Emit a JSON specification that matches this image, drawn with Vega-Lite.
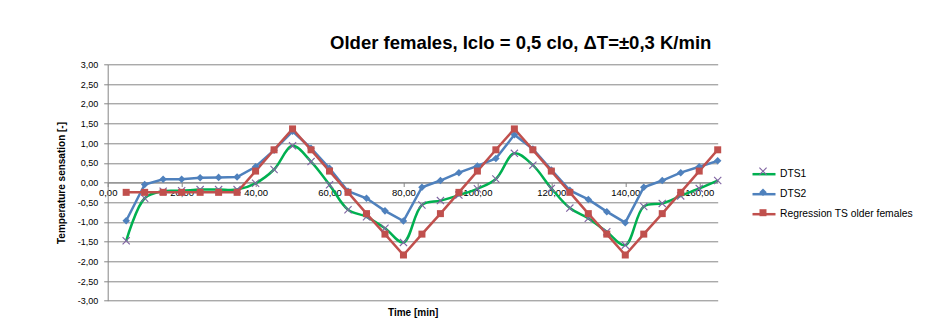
{
  "$schema": "https://vega.github.io/schema/vega-lite/v6.json",
  "width": 610,
  "height": 236.4,
  "autosize": {"type": "none"},
  "padding": {"left": 107.7, "top": 64.3, "right": 230.3, "bottom": 28.3},
  "background": "white",
  "config": {
    "locale": {"number": {"decimal": ",", "thousands": ".", "grouping": [3], "currency": ["", " €"], "minus": "-"}},
    "font": "Liberation Sans",
    "view": {"stroke": null}
  },
  "title": {
    "text": "Older females, Iclo = 0,5 clo, ΔT=±0,3 K/min",
    "fontSize": 18.5,
    "fontWeight": "bold",
    "font": "Liberation Sans",
    "color": "#000000",
    "anchor": "middle",
    "frame": "group",
    "dx": 108,
    "offset": 8
  },
  "data": {
    "values": [
      {"t": 5, "series": "DTS1", "v": -1.48},
      {"t": 10, "series": "DTS1", "v": -0.40},
      {"t": 15, "series": "DTS1", "v": -0.22},
      {"t": 20, "series": "DTS1", "v": -0.21},
      {"t": 25, "series": "DTS1", "v": -0.18},
      {"t": 30, "series": "DTS1", "v": -0.18},
      {"t": 35, "series": "DTS1", "v": -0.18},
      {"t": 40, "series": "DTS1", "v": -0.02},
      {"t": 45, "series": "DTS1", "v": 0.33},
      {"t": 50, "series": "DTS1", "v": 0.93},
      {"t": 55, "series": "DTS1", "v": 0.53},
      {"t": 60, "series": "DTS1", "v": -0.06},
      {"t": 65, "series": "DTS1", "v": -0.69},
      {"t": 70, "series": "DTS1", "v": -0.87},
      {"t": 75, "series": "DTS1", "v": -1.16},
      {"t": 80, "series": "DTS1", "v": -1.52},
      {"t": 85, "series": "DTS1", "v": -0.57},
      {"t": 90, "series": "DTS1", "v": -0.46},
      {"t": 95, "series": "DTS1", "v": -0.32},
      {"t": 100, "series": "DTS1", "v": -0.16},
      {"t": 105, "series": "DTS1", "v": 0.09},
      {"t": 110, "series": "DTS1", "v": 0.74},
      {"t": 115, "series": "DTS1", "v": 0.44},
      {"t": 120, "series": "DTS1", "v": -0.15},
      {"t": 125, "series": "DTS1", "v": -0.65},
      {"t": 130, "series": "DTS1", "v": -0.91},
      {"t": 135, "series": "DTS1", "v": -1.25},
      {"t": 140, "series": "DTS1", "v": -1.59},
      {"t": 145, "series": "DTS1", "v": -0.61},
      {"t": 150, "series": "DTS1", "v": -0.53},
      {"t": 155, "series": "DTS1", "v": -0.34},
      {"t": 160, "series": "DTS1", "v": -0.15},
      {"t": 165, "series": "DTS1", "v": 0.05},
      {"t": 5, "series": "DTS2", "v": -0.97},
      {"t": 10, "series": "DTS2", "v": -0.05},
      {"t": 15, "series": "DTS2", "v": 0.08},
      {"t": 20, "series": "DTS2", "v": 0.08},
      {"t": 25, "series": "DTS2", "v": 0.12},
      {"t": 30, "series": "DTS2", "v": 0.13},
      {"t": 35, "series": "DTS2", "v": 0.14},
      {"t": 40, "series": "DTS2", "v": 0.40},
      {"t": 45, "series": "DTS2", "v": 0.82},
      {"t": 50, "series": "DTS2", "v": 1.30},
      {"t": 55, "series": "DTS2", "v": 0.87},
      {"t": 60, "series": "DTS2", "v": 0.36},
      {"t": 65, "series": "DTS2", "v": -0.22},
      {"t": 70, "series": "DTS2", "v": -0.40},
      {"t": 75, "series": "DTS2", "v": -0.72},
      {"t": 80, "series": "DTS2", "v": -0.98},
      {"t": 85, "series": "DTS2", "v": -0.12},
      {"t": 90, "series": "DTS2", "v": 0.05},
      {"t": 95, "series": "DTS2", "v": 0.25},
      {"t": 100, "series": "DTS2", "v": 0.42},
      {"t": 105, "series": "DTS2", "v": 0.61},
      {"t": 110, "series": "DTS2", "v": 1.21},
      {"t": 115, "series": "DTS2", "v": 0.85},
      {"t": 120, "series": "DTS2", "v": 0.32},
      {"t": 125, "series": "DTS2", "v": -0.20},
      {"t": 130, "series": "DTS2", "v": -0.43},
      {"t": 135, "series": "DTS2", "v": -0.74},
      {"t": 140, "series": "DTS2", "v": -1.02},
      {"t": 145, "series": "DTS2", "v": -0.12},
      {"t": 150, "series": "DTS2", "v": 0.05},
      {"t": 155, "series": "DTS2", "v": 0.25},
      {"t": 160, "series": "DTS2", "v": 0.40},
      {"t": 165, "series": "DTS2", "v": 0.55},
      {"t": 5, "series": "Regression TS older females", "v": -0.25},
      {"t": 10, "series": "Regression TS older females", "v": -0.25},
      {"t": 15, "series": "Regression TS older females", "v": -0.25},
      {"t": 20, "series": "Regression TS older females", "v": -0.25},
      {"t": 25, "series": "Regression TS older females", "v": -0.25},
      {"t": 30, "series": "Regression TS older females", "v": -0.25},
      {"t": 35, "series": "Regression TS older females", "v": -0.25},
      {"t": 40, "series": "Regression TS older females", "v": 0.29},
      {"t": 45, "series": "Regression TS older females", "v": 0.83},
      {"t": 50, "series": "Regression TS older females", "v": 1.36},
      {"t": 55, "series": "Regression TS older females", "v": 0.83},
      {"t": 60, "series": "Regression TS older females", "v": 0.29},
      {"t": 65, "series": "Regression TS older females", "v": -0.25},
      {"t": 70, "series": "Regression TS older females", "v": -0.79},
      {"t": 75, "series": "Regression TS older females", "v": -1.31},
      {"t": 80, "series": "Regression TS older females", "v": -1.84},
      {"t": 85, "series": "Regression TS older females", "v": -1.31},
      {"t": 90, "series": "Regression TS older females", "v": -0.79},
      {"t": 95, "series": "Regression TS older females", "v": -0.25},
      {"t": 100, "series": "Regression TS older females", "v": 0.29},
      {"t": 105, "series": "Regression TS older females", "v": 0.83},
      {"t": 110, "series": "Regression TS older females", "v": 1.36},
      {"t": 115, "series": "Regression TS older females", "v": 0.83},
      {"t": 120, "series": "Regression TS older females", "v": 0.29},
      {"t": 125, "series": "Regression TS older females", "v": -0.25},
      {"t": 130, "series": "Regression TS older females", "v": -0.79},
      {"t": 135, "series": "Regression TS older females", "v": -1.31},
      {"t": 140, "series": "Regression TS older females", "v": -1.84},
      {"t": 145, "series": "Regression TS older females", "v": -1.31},
      {"t": 150, "series": "Regression TS older females", "v": -0.79},
      {"t": 155, "series": "Regression TS older females", "v": -0.25},
      {"t": 160, "series": "Regression TS older females", "v": 0.29},
      {"t": 165, "series": "Regression TS older females", "v": 0.83}
    ]
  },
  "encoding": {
    "x": {
      "field": "t",
      "type": "quantitative",
      "scale": {"domain": [0, 165], "nice": false, "zero": false},
      "axis": {
        "values": [0, 20, 40, 60, 80, 100, 120, 140, 160],
        "format": ".2f",
        "title": "Time [min]",
        "offset": -118.2,
        "grid": false,
        "domainColor": "#868686",
        "tickColor": "#868686",
        "tickSize": 4,
        "labelFont": "Liberation Sans",
        "labelFontSize": 9.5,
        "labelColor": "#000000",
        "labelPadding": 1,
        "labelFlush": false,
        "titleFont": "Liberation Sans",
        "titleFontSize": 10,
        "titleFontWeight": "bold",
        "titleColor": "#000000",
        "titleX": 305,
        "titleY": 129.5,
        "titleAlign": "center",
        "titleBaseline": "middle"
      }
    },
    "y": {
      "field": "v",
      "type": "quantitative",
      "scale": {"domain": [-3, 3], "nice": false, "zero": false},
      "axis": {
        "values": [-3, -2.5, -2, -1.5, -1, -0.5, 0, 0.5, 1, 1.5, 2, 2.5, 3],
        "format": ".2f",
        "title": "Temperature sensation [-]",
        "grid": true,
        "gridColor": "#868686",
        "gridWidth": 1,
        "domainColor": "#868686",
        "tickColor": "#868686",
        "tickSize": 4,
        "labelPadding": 6,
        "labelFont": "Liberation Sans",
        "labelFontSize": 9,
        "labelColor": "#000000",
        "titleFont": "Liberation Sans",
        "titleFontSize": 10,
        "titleFontWeight": "bold",
        "titleColor": "#000000",
        "titleX": -46,
        "titleY": 118.2,
        "titleAngle": 270,
        "titleAlign": "center",
        "titleBaseline": "middle"
      }
    }
  },
  "layer": [
    {
      "transform": [{"filter": "datum.series == 'DTS1'"}],
      "mark": {"type": "line", "interpolate": "catmull-rom", "strokeWidth": 2.5},
      "encoding": {
        "stroke": {
          "field": "series",
          "type": "nominal",
          "scale": {"domain": ["DTS1", "DTS2", "Regression TS older females"], "range": ["#00B050", "#4F81BD", "#C0504D"]},
          "legend": {
            "orient": "none",
            "legendX": 643.3,
            "legendY": 96.9,
            "title": null,
            "padding": 0,
            "offset": 0,
            "symbolType": "stroke",
            "symbolSize": 529,
            "symbolStrokeWidth": 2.5,
            "labelFont": "Liberation Sans",
            "labelFontSize": 10.3,
            "labelColor": "#000000",
            "labelOffset": 3,
            "rowPadding": 1,
            "labelLimit": 300
          }
        }
      }
    },
    {
      "transform": [{"filter": "datum.series != 'DTS1'"}],
      "mark": {"type": "line", "interpolate": "linear", "strokeWidth": 2.5},
      "encoding": {
        "stroke": {
          "field": "series",
          "type": "nominal",
          "scale": {"domain": ["DTS1", "DTS2", "Regression TS older females"], "range": ["#00B050", "#4F81BD", "#C0504D"]}
        }
      }
    },
    {
      "mark": {"type": "point", "filled": true, "opacity": 1, "strokeWidth": 0},
      "encoding": {
        "color": {
          "field": "series",
          "type": "nominal",
          "scale": {"range": ["#8064A2", "#4F81BD", "#C0504D"]},
          "legend": {
            "orient": "none",
            "legendX": 650.3,
            "legendY": 101.9,
            "title": null,
            "padding": 0,
            "offset": 0,
            "labelExpr": "''",
            "labelFontSize": 9,
            "rowPadding": 7,
            "symbolOpacity": 1
          }
        },
        "shape": {
          "field": "series",
          "type": "nominal",
          "scale": {"range": ["M-1,-0.8L-0.8,-1L0,-0.2L0.8,-1L1,-0.8L0.2,0L1,0.8L0.8,1L0,0.2L-0.8,1L-1,0.8L-0.2,0Z", "diamond", "square"]},
          "legend": {
            "orient": "none",
            "legendX": 650.3,
            "legendY": 101.9,
            "title": null,
            "padding": 0,
            "offset": 0,
            "labelExpr": "''",
            "labelFontSize": 9,
            "rowPadding": 7,
            "symbolOpacity": 1
          }
        },
        "size": {
          "field": "series",
          "type": "nominal",
          "scale": {"range": [64, 49, 81]},
          "legend": {
            "orient": "none",
            "legendX": 650.3,
            "legendY": 101.9,
            "title": null,
            "padding": 0,
            "offset": 0,
            "labelExpr": "''",
            "labelFontSize": 9,
            "rowPadding": 7,
            "symbolOpacity": 1
          }
        }
      }
    }
  ]
}
